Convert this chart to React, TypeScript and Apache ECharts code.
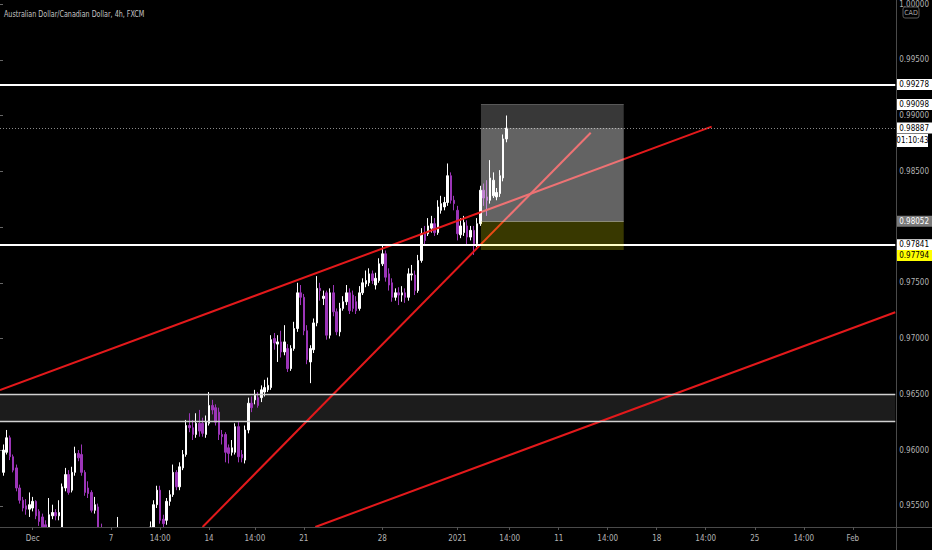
import React, { useEffect, useRef } from 'react';
import * as echarts from 'echarts';

// ---- Candle data (4h bars, AUD/CAD) ----
const opens = [
  0.9580, 0.9598, 0.9611, 0.9594, 0.9584, 0.9566, 0.9555, 0.9550, 0.9547, 0.9548,
  0.9554, 0.9545, 0.9540, 0.9533, 0.9528, 0.9541, 0.9544, 0.9541, 0.9531, 0.9566,
  0.9578, 0.9564, 0.9580, 0.9597, 0.9596, 0.9580, 0.9566, 0.9562, 0.9546, 0.9549,
  0.9530, 0.9520, 0.9510, 0.9519, 0.9512, 0.9521, 0.9528, 0.9515, 0.9505, 0.9514,
  0.9519, 0.9511, 0.9520, 0.9524, 0.9519, 0.9524, 0.9531, 0.9551, 0.9564, 0.9538,
  0.9537, 0.9554, 0.9560, 0.9580, 0.9567, 0.9584, 0.9596, 0.9622, 0.9620, 0.9614,
  0.9624, 0.9624, 0.9614, 0.9624, 0.9640, 0.9638, 0.9634, 0.9614, 0.9614, 0.9602,
  0.9598, 0.9598, 0.9621, 0.9596, 0.9591, 0.9618, 0.9642, 0.9645, 0.9647, 0.9647,
  0.9652, 0.9654, 0.9656, 0.9700, 0.9695, 0.9697, 0.9688, 0.9691, 0.9673, 0.9691,
  0.9709, 0.9741, 0.9737, 0.9707, 0.9679, 0.9690, 0.9714, 0.9745, 0.9736, 0.9741,
  0.9703, 0.9741, 0.9724, 0.9706, 0.9727, 0.9733, 0.9741, 0.9739, 0.9733, 0.9727,
  0.9741, 0.9749, 0.9750, 0.9758, 0.9748, 0.9752, 0.9767, 0.9776, 0.9758, 0.9750,
  0.9737, 0.9741, 0.9739, 0.9741, 0.9737, 0.9757, 0.9757, 0.9743, 0.9770, 0.9795,
  0.9794, 0.9799, 0.9803, 0.9795, 0.9815, 0.9818, 0.9822, 0.9846, 0.9824, 0.9815,
  0.9793, 0.9795, 0.9801, 0.9791, 0.9797, 0.9785, 0.9803, 0.9833, 0.9827, 0.9824,
  0.9828, 0.9827, 0.9830, 0.9844, 0.9879,
];
const closes = [
  0.9600, 0.9611, 0.9594, 0.9582, 0.9566, 0.9555, 0.9548, 0.9547, 0.9551, 0.9554,
  0.9541, 0.9536, 0.9531, 0.9523, 0.9542, 0.9544, 0.9541, 0.9544, 0.9567, 0.9578,
  0.9562, 0.9580, 0.9597, 0.9593, 0.9580, 0.9562, 0.9561, 0.9546, 0.9551, 0.9530,
  0.9520, 0.9510, 0.9519, 0.9512, 0.9521, 0.9528, 0.9515, 0.9505, 0.9514, 0.9519,
  0.9511, 0.9520, 0.9524, 0.9519, 0.9526, 0.9531, 0.9551, 0.9564, 0.9537, 0.9534,
  0.9554, 0.9560, 0.9580, 0.9567, 0.9585, 0.9596, 0.9622, 0.9620, 0.9614, 0.9624,
  0.9617, 0.9615, 0.9625, 0.9640, 0.9636, 0.9625, 0.9614, 0.9612, 0.9598, 0.9597,
  0.9602, 0.9621, 0.9594, 0.9593, 0.9618, 0.9642, 0.9638, 0.9649, 0.9640, 0.9654,
  0.9656, 0.9658, 0.9699, 0.9696, 0.9697, 0.9688, 0.9697, 0.9673, 0.9691, 0.9709,
  0.9741, 0.9737, 0.9707, 0.9681, 0.9691, 0.9714, 0.9745, 0.9743, 0.9738, 0.9703,
  0.9741, 0.9724, 0.9706, 0.9727, 0.9733, 0.9741, 0.9725, 0.9727, 0.9725, 0.9741,
  0.9750, 0.9752, 0.9758, 0.9752, 0.9754, 0.9767, 0.9776, 0.9755, 0.9748, 0.9737,
  0.9741, 0.9739, 0.9741, 0.9737, 0.9758, 0.9758, 0.9743, 0.9770, 0.9794, 0.9788,
  0.9801, 0.9803, 0.9795, 0.9818, 0.9821, 0.9822, 0.9846, 0.9824, 0.9821, 0.9794,
  0.9801, 0.9804, 0.9791, 0.9797, 0.9785, 0.9803, 0.9833, 0.9826, 0.9824, 0.9844,
  0.9842, 0.9831, 0.9846, 0.9879, 0.98887,
];
const lows = [
  0.9577, 0.9596, 0.9591, 0.9580, 0.9563, 0.9552, 0.9545, 0.9542, 0.9540, 0.9545,
  0.9538, 0.9532, 0.9526, 0.9519, 0.9526, 0.9538, 0.9537, 0.9537, 0.9528, 0.9563,
  0.9560, 0.9562, 0.9577, 0.9590, 0.9577, 0.9559, 0.9557, 0.9544, 0.9543, 0.9527,
  0.9515, 0.9505, 0.9505, 0.9508, 0.9510, 0.9519, 0.9512, 0.9502, 0.9502, 0.9511,
  0.9508, 0.9509, 0.9517, 0.9514, 0.9515, 0.9520, 0.9528, 0.9548, 0.9534, 0.9530,
  0.9533, 0.9550, 0.9558, 0.9564, 0.9564, 0.9582, 0.9594, 0.9616, 0.9609, 0.9611,
  0.9612, 0.9612, 0.9611, 0.9622, 0.9632, 0.9622, 0.9609, 0.9605, 0.9589, 0.9588,
  0.9595, 0.9596, 0.9589, 0.9589, 0.9588, 0.9615, 0.9634, 0.9641, 0.9638, 0.9643,
  0.9648, 0.9652, 0.9654, 0.9690, 0.9679, 0.9683, 0.9685, 0.9670, 0.9671, 0.9689,
  0.9706, 0.9730, 0.9703, 0.9677, 0.9660, 0.9687, 0.9711, 0.9734, 0.9730, 0.9699,
  0.9700, 0.9720, 0.9703, 0.9702, 0.9725, 0.9730, 0.9722, 0.9724, 0.9722, 0.9725,
  0.9739, 0.9746, 0.9747, 0.9749, 0.9744, 0.9750, 0.9765, 0.9751, 0.9743, 0.9733,
  0.9734, 0.9730, 0.9733, 0.9732, 0.9734, 0.9752, 0.9739, 0.9741, 0.9768, 0.9784,
  0.9792, 0.9795, 0.9792, 0.9793, 0.9812, 0.9815, 0.9819, 0.9821, 0.9815, 0.9788,
  0.9790, 0.9792, 0.9784, 0.9788, 0.9775, 0.9782, 0.9801, 0.9819, 0.9810, 0.9821,
  0.9826, 0.9824, 0.9827, 0.9841, 0.9876,
];
const highs = [
  0.9605, 0.9618, 0.9613, 0.9596, 0.9587, 0.9569, 0.9558, 0.9556, 0.9562, 0.9558,
  0.9555, 0.9547, 0.9543, 0.9537, 0.9557, 0.9551, 0.9547, 0.9555, 0.9570, 0.9584,
  0.9582, 0.9585, 0.9603, 0.9600, 0.9605, 0.9582, 0.9572, 0.9564, 0.9558, 0.9552,
  0.9534, 0.9527, 0.9523, 0.9523, 0.9528, 0.9540, 0.9531, 0.9519, 0.9520, 0.9525,
  0.9522, 0.9524, 0.9528, 0.9528, 0.9530, 0.9536, 0.9555, 0.9568, 0.9568, 0.9542,
  0.9557, 0.9564, 0.9587, 0.9582, 0.9589, 0.9600, 0.9627, 0.9633, 0.9627, 0.9633,
  0.9636, 0.9629, 0.9631, 0.9652, 0.9645, 0.9641, 0.9638, 0.9618, 0.9616, 0.9605,
  0.9609, 0.9624, 0.9625, 0.9600, 0.9622, 0.9647, 0.9648, 0.9654, 0.9652, 0.9658,
  0.9663, 0.9665, 0.9703, 0.9705, 0.9703, 0.9707, 0.9712, 0.9695, 0.9694, 0.9715,
  0.9750, 0.9748, 0.9740, 0.9712, 0.9694, 0.9718, 0.9756, 0.9750, 0.9743, 0.9743,
  0.9745, 0.9748, 0.9727, 0.9732, 0.9738, 0.9748, 0.9745, 0.9743, 0.9738, 0.9747,
  0.9754, 0.9761, 0.9763, 0.9761, 0.9759, 0.9772, 0.9783, 0.9779, 0.9763, 0.9754,
  0.9745, 0.9746, 0.9747, 0.9745, 0.9763, 0.9766, 0.9761, 0.9775, 0.9799, 0.9801,
  0.9808, 0.9810, 0.9808, 0.9824, 0.9828, 0.9827, 0.9857, 0.9849, 0.9828, 0.9819,
  0.9808, 0.9810, 0.9806, 0.9801, 0.9801, 0.9808, 0.9837, 0.9839, 0.9842, 0.9860,
  0.9849, 0.9835, 0.9851, 0.9883, 0.9900,
];

// ---- Axis ticks ----
const xLabelIdx = [10, 34, 49, 64, 78, 93, 117, 140, 156, 171, 186, 201, 216, 231, 246, 261];
const xLabelText = ['Dec', '7', '14:00', '14', '14:00', '21', '28', '2021', '14:00', '11', '14:00', '18', '14:00', '25', '14:00', 'Feb'];
const yTicks = [0.955, 0.96, 0.965, 0.97, 0.975, 0.98, 0.985, 0.99, 0.995, 1.0];
// 0.98000 sits behind the entry price box, as in the reference
const yLabelTicks = [0.955, 0.96, 0.965, 0.97, 0.975, 0.985, 0.99, 0.995, 1.0];

// ---- Levels / drawings ----
const resistance = 0.99278;
const support = 0.97841;
const zoneTop = 0.965;
const zoneBottom = 0.9626;
const lastPrice = 0.98887;
const target = 0.99098;
const entry = 0.98052;
const stop = 0.97794;
const countdown = '01:10:43';
const posStart = 147.2;
const posEnd = 190.9;
const upperTrend = [[0, 0.96537], [217.8, 0.989]];
const steepTrend = [[62.0, 0.9531], [180.8, 0.98846]];
const lowerTrend = [[96.5, 0.9531], [274, 0.97236]];

const FONT = '"Liberation Sans Narrow", "DejaVu Sans Condensed", "Liberation Sans", sans-serif';
const PURPLE = '#9c35b8';
const RED = '#e3191b';

function priceLabel(text: string, bg: string, fg: string, vAlign?: string) {
  const l: any = {
    show: true,
    position: 'end',
    formatter: text,
    backgroundColor: bg,
    color: fg,
    fontSize: 8,
    fontFamily: FONT,
    padding: [2, 3, 1, 3],
    distance: 1,
    opacity: 1,
  };
  if (vAlign) l.verticalAlign = vAlign;
  return l;
}

export default function App() {
  const ref = useRef<HTMLDivElement>(null);
  useEffect(() => {
    document.body.style.margin = '0';
    document.body.style.background = '#000';
    const chart = echarts.init(ref.current as HTMLDivElement, null, { renderer: 'svg' });
    const candles = opens.map((o, i) => [i + 1, o, closes[i], lows[i], highs[i]]);
    const hidden = { color: 'rgba(0,0,0,0)', width: 0 };
    chart.setOption({
      animation: false,
      backgroundColor: '#000',
      textStyle: { fontFamily: FONT },
      grid: { left: 0, right: 35, top: 0, bottom: 23 },
      xAxis: {
        type: 'value',
        min: 0,
        max: 274,
        z: 30,
        axisLine: { show: false },
        splitLine: { show: false },
        axisTick: { show: true, customValues: xLabelIdx, length: 3, lineStyle: { color: '#555' } },
        axisLabel: {
          customValues: xLabelIdx,
          formatter: (v: number) => {
            const k = xLabelIdx.indexOf(v);
            return k >= 0 ? xLabelText[k] : '';
          },
          color: '#b4b4b4',
          fontSize: 8,
          margin: 7,
        },
      },
      yAxis: {
        type: 'value',
        position: 'right',
        min: 0.9531,
        max: 1.0003,
        axisLine: { show: false },
        splitLine: { show: false },
        axisTick: { show: true, customValues: yTicks, length: 3, lineStyle: { color: '#666' } },
        axisLabel: {
          customValues: yLabelTicks,
          formatter: (v: number) => v.toFixed(5),
          color: '#b4b4b4',
          fontSize: 8,
          margin: 4,
        },
      },
      series: [
        {
          type: 'candlestick',
          data: candles,
          encode: { x: 0, y: [1, 2, 3, 4] },
          barWidth: 2,
          z: 2,
          clip: true,
          itemStyle: {
            color: '#ffffff',
            color0: PURPLE,
            borderColor: '#ffffff',
            borderColor0: PURPLE,
            borderWidth: 1,
          },
          markArea: {
            silent: true,
            itemStyle: { color: 'rgba(255,255,255,0.11)' },
            data: [[{ yAxis: zoneBottom }, { yAxis: zoneTop }]],
          },
          markLine: {
            silent: true,
            precision: 5,
            symbol: ['none', 'none'],
            label: { show: false },
            data: [
              { yAxis: zoneTop, lineStyle: { color: '#d0d0d0', width: 1.3, type: 'solid' }, label: { show: false } },
              { yAxis: zoneBottom, lineStyle: { color: '#d0d0d0', width: 1.3, type: 'solid' }, label: { show: false } },
              { yAxis: resistance, lineStyle: { color: '#ffffff', width: 2, type: 'solid' }, label: priceLabel('0.99278', '#ffffff', '#000') },
              { yAxis: support, lineStyle: { color: '#ffffff', width: 2, type: 'solid' }, label: priceLabel('0.97841', '#ffffff', '#000') },
              { yAxis: lastPrice, lineStyle: { color: '#8a8a8a', width: 1, type: [1, 2] }, label: priceLabel('0.98887', '#ffffff', '#000') },
              { yAxis: target, lineStyle: hidden, label: priceLabel('0.99098', '#ffffff', '#000') },
              { yAxis: entry, lineStyle: hidden, label: priceLabel('0.98052', '#7a7a7a', '#ffffff') },
              { yAxis: stop, lineStyle: hidden, label: priceLabel('0.97794', '#ffff00', '#000', 'top') },
            ],
          },
        },
        {
          type: 'line',
          data: upperTrend,
          symbol: 'none',
          z: 3,
          lineStyle: { color: RED, width: 2 },
          markArea: {
            z: 10,
            silent: true,
            data: [
              [{ xAxis: posStart, yAxis: target, itemStyle: { color: 'rgba(255,255,255,0.22)' } }, { xAxis: posEnd, yAxis: entry }],
              [{ xAxis: posStart, yAxis: lastPrice, itemStyle: { color: 'rgba(255,255,255,0.22)' } }, { xAxis: posEnd, yAxis: entry }],
              [{ xAxis: posStart, yAxis: entry, itemStyle: { color: 'rgba(255,255,0,0.22)' } }, { xAxis: posEnd, yAxis: stop }],
            ],
          },
          markLine: {
            z: 11,
            silent: true,
            precision: 5,
            symbol: ['none', 'none'],
            label: { show: false },
            data: [
              [
                { coord: [posStart, target], lineStyle: { color: 'rgba(200,200,200,0.35)', width: 1, type: 'solid' } },
                { coord: [posEnd, target] },
              ],
              [
                { coord: [posStart, entry], lineStyle: { color: 'rgba(200,200,200,0.55)', width: 1, type: 'solid' } },
                { coord: [posEnd, entry] },
              ],
            ],
          },
        },
        { type: 'line', data: steepTrend, symbol: 'none', z: 3, lineStyle: { color: RED, width: 2 } },
        { type: 'line', data: lowerTrend, symbol: 'none', z: 3, lineStyle: { color: RED, width: 2 } },
      ],
      graphic: [
        // mask below the plot area so candles running past the bottom edge are cut off
        { type: 'rect', z: 4, shape: { x: 0, y: 527, width: 896, height: 23 }, style: { fill: '#000' } },
        {
          type: 'text',
          x: 4,
          y: 9,
          scaleX: 0.75,
          z: 20,
          style: { text: 'Australian Dollar/Canadian Dollar, 4h, FXCM', fill: '#c4c4c4', fontSize: 9.5, fontFamily: FONT },
        },
        { type: 'line', z: 20, shape: { x1: 896.5, y1: 0, x2: 896.5, y2: 550 }, style: { stroke: '#4a4a4a', lineWidth: 1 } },
        { type: 'line', z: 20, shape: { x1: 0, y1: 527.5, x2: 932, y2: 527.5 }, style: { stroke: '#4a4a4a', lineWidth: 1 } },
        {
          type: 'rect',
          z: 20,
          shape: { x: 903, y: 7, width: 16, height: 11, r: 2 },
          style: { fill: '#000', stroke: '#5a5a5a', lineWidth: 1 },
        },
        {
          type: 'text',
          z: 21,
          x: 911,
          y: 12.5,
          style: { text: 'CAD', fill: '#a8a8a8', fontSize: 7, fontFamily: FONT, align: 'center', verticalAlign: 'middle' },
        },
        {
          type: 'rect',
          z: 20,
          shape: { x: 897, y: 134, width: 31, height: 13 },
          style: { fill: '#ffffff' },
        },
        {
          type: 'text',
          z: 21,
          x: 912.5,
          y: 140.5,
          style: { text: countdown, fill: '#000', fontSize: 8, fontFamily: FONT, align: 'center', verticalAlign: 'middle' },
        },
      ],
    });
    return () => chart.dispose();
  }, []);
  return (
    <div
      ref={ref}
      style={{ position: 'fixed', left: 0, top: 0, width: 932, height: 550, background: '#000' }}
    />
  );
}
